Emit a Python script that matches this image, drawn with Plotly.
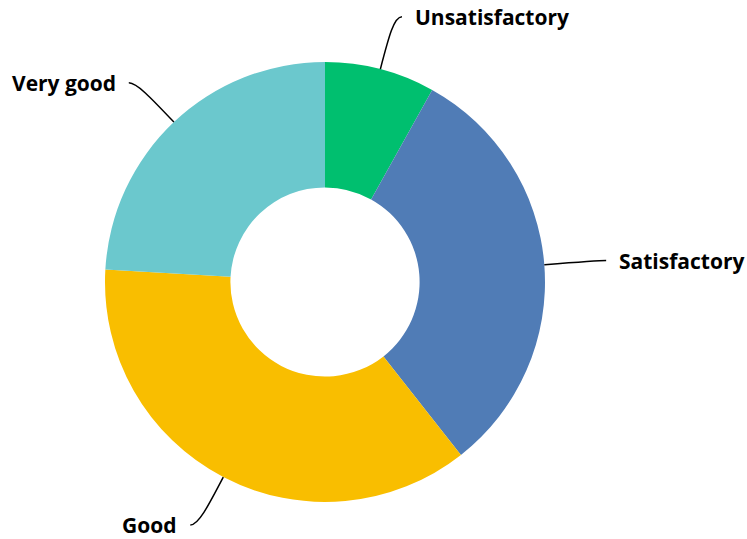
import math
import plotly.graph_objects as go

# ---- data ----
categories = ["Unsatisfactory", "Satisfactory", "Good", "Very good"]
values = [8.1, 31.3, 36.5, 24.1]
colors = ["#00BF6F", "#507CB6", "#F9BE00", "#6BC8CD"]

# ---- layout constants (pixels) ----
W, H = 747, 539
ML, MR, MT, MB = 105, 202, 62, 37
PW, PH = W - ML - MR, H - MT - MB
CX, CY = ML + PW / 2, MT + PH / 2
R = min(PW, PH) / 2
HOLE = 0.43


def to_paper(px, py):
    return (px - ML) / PW, (H - MB - py) / PH


fig = go.Figure(
    go.Pie(
        labels=categories,
        values=values,
        marker=dict(colors=colors, line=dict(width=0)),
        hole=HOLE,
        sort=False,
        direction="clockwise",
        rotation=0,
        textinfo="none",
        hoverinfo="skip",
        showlegend=False,
    )
)

shapes = []
annotations = []
total = sum(values)
cum = 0.0
for lab, v in zip(categories, values):
    theta = 2 * math.pi * (cum + v / 2) / total
    cum += v
    ux, uy = math.sin(theta), -math.cos(theta)
    sgn = 1 if ux >= 0 else -1
    p0 = (CX + R * ux, CY + R * uy)
    c1 = (CX + (R + 34) * ux, CY + (R + 34) * uy)
    r2 = 274
    c2 = (CX + r2 * ux, CY + r2 * uy)
    e = (c2[0] + sgn * 8, c2[1])
    pts = [to_paper(*p) for p in (p0, c1, c2, e)]
    path = "M {:.5f},{:.5f} C {:.5f},{:.5f} {:.5f},{:.5f} {:.5f},{:.5f}".format(
        *pts[0], *pts[1], *pts[2], *pts[3]
    )
    shapes.append(
        dict(type="path", xref="paper", yref="paper", path=path,
             line=dict(color="#000000", width=1.5))
    )
    tx, ty = to_paper(e[0] + sgn * 11, e[1])
    annotations.append(
        dict(x=tx, y=ty, xref="paper", yref="paper", text=lab, showarrow=False,
             xanchor="left" if sgn > 0 else "right", yanchor="middle",
             font=dict(family="Open Sans", size=21, color="#000000", weight="bold"))
    )

fig.update_layout(
    width=W,
    height=H,
    margin=dict(l=ML, r=MR, t=MT, b=MB, pad=0),
    paper_bgcolor="white",
    plot_bgcolor="white",
    hovermode=False,
    shapes=shapes,
    annotations=annotations,
)

fig.write_html(
    "out.html",
    config={"displayModeBar": False},
    post_script="document.body.style.margin='0';document.body.style.overflow='hidden';",
)
